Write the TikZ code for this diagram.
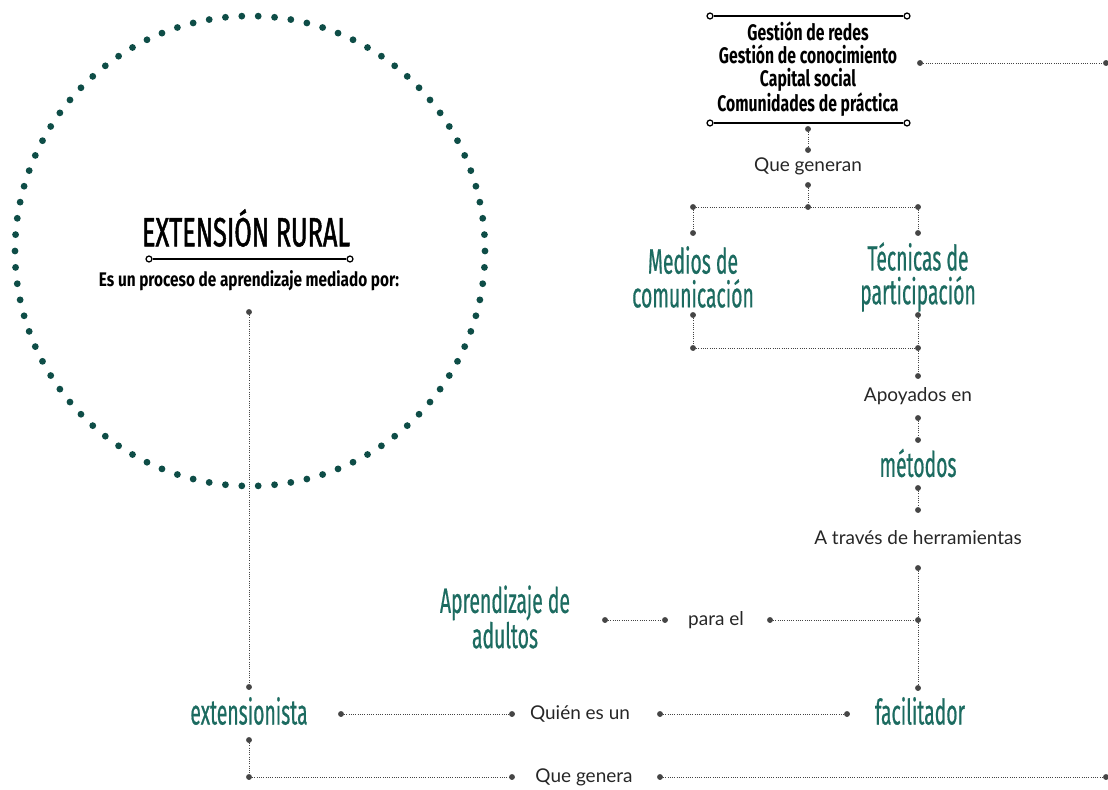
\documentclass[tikz,border=0pt]{standalone}
\usepackage{fontspec}
\setmainfont{Lato}
\newfontfamily\condfont[FakeStretch=0.55, FakeBold=0.5]{Fira Sans}
\newfontfamily\titlefont[FakeStretch=0.62, FakeBold=1.2]{Fira Sans}
\newfontfamily\gestfont[FakeStretch=0.7]{Fira Sans}
\newfontfamily\subfont[FakeStretch=0.78]{Fira Sans}
\usetikzlibrary{positioning}
\definecolor{myteal}{HTML}{1C6B60}
\definecolor{mygreen}{HTML}{0E4D47}
\definecolor{mygray}{HTML}{454545}
\tikzset{
         mydot/.style={circle, fill=mygray, inner sep=0pt, minimum size=4.2pt},
         myring/.style={circle, draw=black, fill=white, line width=0.9pt, inner sep=0pt, minimum size=4.2pt},
         mylink/.style={draw=mygray, densely dotted, line width=0.6pt},
         myrule/.style={draw=black, line width=0.9pt},
         myhead/.style={text=myteal, align=center, font=\condfont\fontsize{25}{24}\selectfont},
         mylabel/.style={text=black!85, font=\fontsize{13.5}{15}\selectfont}
      }

\begin{document}
\begin{tikzpicture}[x=0.025cm, y=-0.025cm]
  \useasboundingbox (0,0) rectangle (1108,789);
  % dotted ring
  \foreach \a in {0,4,...,356}
     \fill[mygreen, shift={(250,251)}] (\a:235) circle (3.4);

  % title inside the ring
  \node[font=\titlefont\fontsize{29}{31}\selectfont] (title) at (246,228) {EXTENSIÓN RURAL};
  \node[myring] (ta) at (149,259) {};
  \node[myring] (tb) at (350,259) {};
  \draw[myrule] (ta) -- (tb);
  \node[font=\subfont\bfseries\fontsize{14}{16}\selectfont] (sub) at (249,281) {Es un proceso de aprendizaje mediado por:};

  % top block
  \node[myring] (ga) at (710,16) {};
  \node[myring] (gb) at (907,16) {};
  \node[myring] (gc) at (710,123) {};
  \node[myring] (gd) at (907,123) {};
  \draw[myrule] (ga) -- (gb);
  \draw[myrule] (gc) -- (gd);
  \node[align=center, font=\gestfont\bfseries\fontsize{16}{16.2}\selectfont] (gest) at (808,69)
       {Gestión de redes\\Gestión de conocimiento\\Capital social\\Comunidades de práctica};
  \node[mydot] (g1) at (920,63) {};
  \node[mydot] (g2) at (1106,63) {};
  \draw[mylink] (g1) -- (g2);

  \node[mydot] (q1) at (808,129) {};
  \node[mydot] (q2) at (808,150) {};
  \node[mylabel] (gen) at (808,166) {Que generan};
  \node[mydot] (q3) at (808,185) {};
  \node[mydot] (j1) at (693,207) {};
  \node[mydot] (j2) at (808,207) {};
  \node[mydot] (j3) at (918,207) {};
  \draw[mylink] (q1) -- (q2);
  \draw[mylink] (q3) -- (j2);
  \draw[mylink] (j1) -- (j3);

  % medios / tecnicas
  \node[mydot] (m1) at (693,233) {};
  \node[myhead] (medios) at (693,277) {Medios de\\comunicación};
  \node[mydot] (m2) at (693,315) {};
  \node[mydot] (m3) at (693,348) {};
  \node[mydot] (t1) at (918,233) {};
  \node[myhead] (tecnicas) at (918,277) {Técnicas de\\participación};
  \node[mydot] (t2) at (918,315) {};
  \node[mydot] (t3) at (918,348) {};
  \draw[mylink] (j1) -- (m1);
  \draw[mylink] (j3) -- (t1);
  \draw[mylink] (m2) -- (m3) -- (t3);
  \draw[mylink] (t2) -- (t3);

  % chain down to facilitador
  \node[mydot] (a1) at (918,376) {};
  \node[mylabel] (apoy) at (918,396) {Apoyados en};
  \node[mydot] (a2) at (918,418) {};
  \node[mydot] (a3) at (918,440) {};
  \node[myhead] (metodos) at (918,463) {métodos};
  \node[mydot] (a4) at (918,488) {};
  \node[mydot] (a5) at (918,510) {};
  \node[mylabel] (herr) at (918,538) {A través de herramientas};
  \node[mydot] (a6) at (918,568) {};
  \node[mydot] (a7) at (918,620) {};
  \node[mydot] (a8) at (918,688) {};
  \node[myhead] (facil) at (920,711) {facilitador};
  \draw[mylink] (t3) -- (a1);
  \draw[mylink] (a2) -- (a3);
  \draw[mylink] (a4) -- (a5);
  \draw[mylink] (a6) -- (a8);

  % aprendizaje de adultos
  \node[myhead] (adultos) at (505,617) {Aprendizaje de\\adultos};
  \node[mydot] (p1) at (605,620) {};
  \node[mydot] (p2) at (665,620) {};
  \node[mylabel] (para) at (716,620) {para el};
  \node[mydot] (p3) at (770,620) {};
  \draw[mylink] (p1) -- (p2);
  \draw[mylink] (p3) -- (a7);

  % extensionista
  \node[mydot] (e1) at (249,312) {};
  \node[mydot] (e2) at (249,687) {};
  \node[myhead] (ext) at (249,711) {extensionista};
  \node[mydot] (e3) at (249,740) {};
  \node[mydot] (e4) at (249,777) {};
  \draw[mylink] (e1) -- (e2);
  \draw[mylink] (e3) -- (e4);

  \node[mydot] (k1) at (341,714) {};
  \node[mydot] (k2) at (512,714) {};
  \node[mylabel] (quien) at (580,714) {Quién es un};
  \node[mydot] (k3) at (660,714) {};
  \node[mydot] (k4) at (847,714) {};
  \draw[mylink] (k1) -- (k2);
  \draw[mylink] (k3) -- (k4);

  \node[mydot] (b1) at (512,777) {};
  \node[mylabel] (genera) at (584,777) {Que genera};
  \node[mydot] (b2) at (660,777) {};
  \node[mydot] (b3) at (1106,777) {};
  \draw[mylink] (e4) -- (b1);
  \draw[mylink] (b2) -- (b3);
\end{tikzpicture}
\end{document}
